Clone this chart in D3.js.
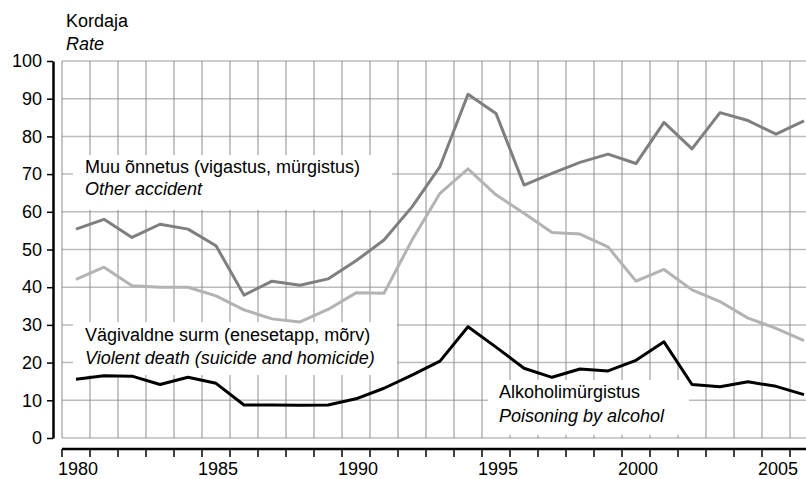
<!DOCTYPE html>
<html>
<head>
<meta charset="utf-8">
<script src="https://cdn.jsdelivr.net/npm/d3@7"></script>
<style>
  html, body { margin: 0; padding: 0; background: #fff; }
  svg { display: block; font-family: "Liberation Sans", Arial, sans-serif; }
</style>
</head>
<body>
<svg id="chart" width="806" height="479"></svg>
<script>
const years = d3.range(1980, 2007);
const otherAccident = [55.4, 58.0, 53.2, 56.7, 55.4, 51.0, 37.9, 41.6, 40.5, 42.2, 47.0, 52.5, 61.3, 72.0, 91.2, 86.1, 67.1, 70.2, 73.1, 75.3, 72.8, 83.7, 76.7, 86.3, 84.2, 80.6, 84.1];
const violentDeath = [42.1, 45.3, 40.4, 40.0, 40.0, 37.7, 34.0, 31.6, 30.8, 34.1, 38.5, 38.4, 52.5, 64.9, 71.4, 64.5, 59.6, 54.5, 54.1, 50.7, 41.6, 44.7, 39.3, 36.2, 31.8, 29.1, 25.8];
const alcoholPoisoning = [15.6, 16.5, 16.4, 14.2, 16.1, 14.5, 8.75, 8.75, 8.7, 8.75, 10.4, 13.2, 16.7, 20.4, 29.5, 24.1, 18.5, 16.1, 18.3, 17.8, 20.6, 25.5, 14.2, 13.6, 14.9, 13.7, 11.5];
const yTicks = [0, 10, 20, 30, 40, 50, 60, 70, 80, 90, 100];
const xLabelYears = [1980, 1985, 1990, 1995, 2000, 2005];
const yTitle = ["Kordaja", "Rate"];
const seriesLabels = [
  ["Muu õnnetus (vigastus, mürgistus)", "Other accident"],
  ["Vägivaldne surm (enesetapp, mõrv)", "Violent death (suicide and homicide)"],
  ["Alkoholimürgistus", "Poisoning by alcohol"]
];

(function () {
const svg = d3.select("#chart");
const pLeft = 62, pTop = 61, pBottom = 438;
const step = 28;
const x = d3.scaleBand().domain(years).range([pLeft, pLeft + years.length * step]).padding(0);
const y = d3.scaleLinear().domain([0, 100]).range([pBottom, pTop]);
const pRight = 806;

// horizontal grid
svg.append("g").selectAll("line").data(yTicks).join("line")
  .attr("x1", pLeft).attr("x2", pRight)
  .attr("y1", d => y(d)).attr("y2", d => y(d))
  .attr("stroke", "#bcbcbc").attr("stroke-width", 1.5);
// vertical grid
const edges = years.map(d => x(d)).concat([x(years[years.length - 1]) + x.bandwidth()]);
svg.append("g").selectAll("line").data(edges).join("line")
  .attr("x1", d => d).attr("x2", d => d)
  .attr("y1", pTop).attr("y2", pBottom)
  .attr("stroke", "#8c8c8c").attr("stroke-width", 1);

// label boxes
const boxes = [
  { x0: 73, y0: 155, x1: 392, y1: 210, tx: 85, b1: 173, b2: 195 },
  { x0: 73, y0: 322, x1: 397, y1: 375, tx: 85, b1: 341, b2: 364 },
  { x0: 488, y0: 380, x1: 689, y1: 435, tx: 499, b1: 398, b2: 422 }
];
boxes.forEach((b, i) => {
  svg.append("rect").attr("x", b.x0).attr("y", b.y0)
    .attr("width", b.x1 - b.x0).attr("height", b.y1 - b.y0).attr("fill", "#fff");
  svg.append("text").attr("x", b.tx).attr("y", b.b1).attr("font-size", 18).attr("fill", "#000").text(seriesLabels[i][0]);
  svg.append("text").attr("x", b.tx).attr("y", b.b2).attr("font-size", 18).attr("font-style", "italic").attr("fill", "#000").text(seriesLabels[i][1]);
});

// lines
const line = d3.line().x((d, i) => x(years[i]) + x.bandwidth() / 2).y(d => y(d)).curve(d3.curveLinear);
[[violentDeath, "#b3b3b3"], [otherAccident, "#7f7f7f"], [alcoholPoisoning, "#000000"]].forEach(([data, c]) => {
  svg.append("path").datum(data).attr("d", line)
    .attr("fill", "none").attr("stroke", c).attr("stroke-width", 3).attr("stroke-linejoin", "round");
});

// y axis
const yAxis = d3.axisLeft(y).tickValues(yTicks).tickSize(6).tickPadding(5).tickSizeOuter(0);
const gy = svg.append("g").attr("transform", "translate(53,0)").call(yAxis);
gy.select(".domain").attr("stroke", "#000").attr("stroke-width", 2.5);
gy.selectAll(".tick line").attr("stroke", "#000").attr("stroke-width", 1.5);
gy.selectAll(".tick text").attr("font-size", 18).attr("fill", "#000").attr("font-family", "Liberation Sans, Arial, sans-serif");

// x axis
const gx = svg.append("g").attr("transform", "translate(0,449)");
gx.append("line").attr("x1", pLeft).attr("x2", pRight).attr("y1", 0).attr("y2", 0)
  .attr("stroke", "#000").attr("stroke-width", 2.5);
gx.selectAll("line.tk").data(edges).join("line").attr("class", "tk")
  .attr("x1", d => d).attr("x2", d => d).attr("y1", 0).attr("y2", 8)
  .attr("stroke", "#000").attr("stroke-width", 1.5);
gx.selectAll("text").data(xLabelYears).join("text")
  .attr("x", d => x(d) + x.bandwidth() / 2 + 2).attr("y", 26)
  .attr("text-anchor", "middle").attr("font-size", 18).attr("fill", "#000")
  .text(d => d);

// y title
svg.append("text").attr("x", 66).attr("y", 27).attr("font-size", 18).text(yTitle[0]);
svg.append("text").attr("x", 66).attr("y", 50).attr("font-size", 18).attr("font-style", "italic").text(yTitle[1]);
})();
</script>
</body>
</html>
